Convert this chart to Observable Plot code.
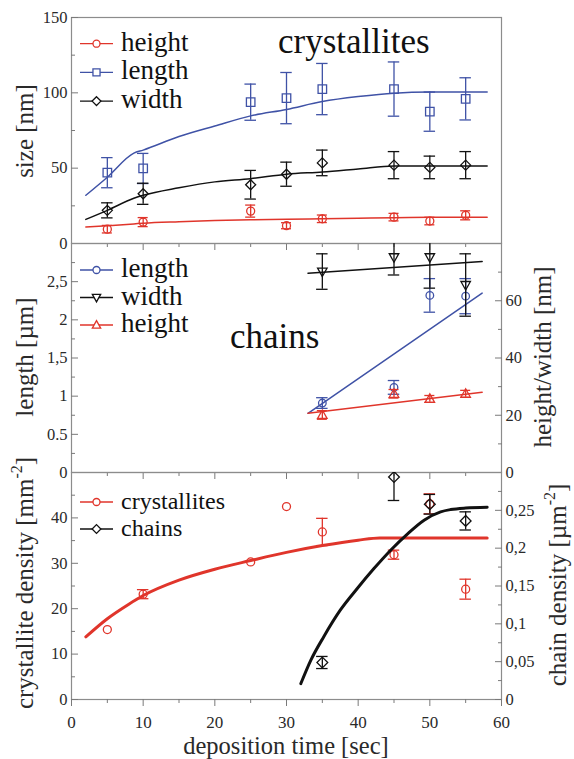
<!DOCTYPE html>
<html><head><meta charset="utf-8">
<script src="https://cdn.jsdelivr.net/npm/d3@7"></script>
<script src="https://cdn.jsdelivr.net/npm/@observablehq/plot@0.6"></script>
<style>
body{margin:0;background:#fff}
#chart{position:relative;width:574px;height:759px;background:#fff;font-family:"Liberation Serif","DejaVu Serif","Times New Roman",serif}
</style></head><body><div id="chart"></div>
<script>
// ---------- DATA ----------
// top panel: crystallite size [nm]
const crystTime = [5, 10, 25, 30, 35, 45, 50, 55];
const crystHeight = [9.5, 14.2, 21.5, 11.8, 16.4, 17.5, 14.9, 18.7];
const crystHeightErr = [2.5, 3, 4, 2, 2.5, 2.5, 2.5, 3];
const crystLength = [47, 49.8, 93.8, 96.5, 102.5, 102.5, 87.5, 96];
const crystLengthErr = [10, 10, 12, 17, 17, 18, 13, 14];
const crystWidth = [22, 33, 39, 46, 53.5, 52, 50.5, 52];
const crystWidthErr = [5, 7, 9.5, 8, 8.5, 9, 7.5, 9];
const sizeFitTime = [2, 5, 8.7, 10, 15, 20, 25, 30, 35, 40, 45, 50, 55, 58];
const lengthFit = [32, 44, 60, 62, 71, 78, 84.7, 89, 94.2, 97.5, 99.8, 100.5, 100.5, 100.5];
const widthFit = [16, 22, 30, 32, 37, 40.9, 43, 46, 47.5, 49.5, 51.5, 51.5, 51.5, 51.5];
const heightFit = [10.9, 11.8, 13, 13.5, 14.5, 15.2, 15.8, 16.1, 16.4, 16.8, 17.1, 17.4, 17.5, 17.5];

// middle panel: chains
const chainTime = [35, 45, 50, 55];
const chainLength = [0.91, 1.115, 2.32, 2.31];        // µm (left axis)
const chainLengthErr = [0.07, 0.09, 0.22, 0.23];
const chainWidth = [70.2, 75.2, 75.2, 65.5];          // nm (right axis)
const chainWidthErr = [6.2, 6.2, 10.8, 10.9];
const chainHeight = [20.1, 27.5, 25.7, 27.5];         // nm (right axis)
const chainHeightErr = [1.5, 1.5, 1.2, 1.2];
const chainFitTime = [33, 57.3];
const chainLengthFit = [0.776, 2.35];
const chainWidthFit = [69.6, 73.7];
const chainHeightFit = [20.7, 28];

// bottom panel: densities
const densTime = [5, 10, 25, 30, 35, 45, 50, 55];
const crystDensity = [15.4, 23.2, 30.3, 42.5, 36.9, 31.9, 43.1, 24.3];
const crystDensityErr = [0, 1, 0, 0, 3, 1, 2.2, 2.2];
const chainDensTime = [35, 45, 50, 55];
const chainDensity = [0.0489, 0.294, 0.258, 0.236];
const chainDensityErr = [0.008, 0.031, 0.013, 0.012];
const crystDensFitTime = [2, 5, 8, 10, 15, 20, 25, 30, 35, 40, 43, 50, 58];
const crystDensFit = [13.8, 17.8, 21, 22.9, 26.3, 28.7, 30.6, 32.4, 33.9, 35.1, 35.6, 35.6, 35.6];
const chainDensFitTime = [32, 33.4, 35.2, 37.5, 39.9, 42.2, 44.5, 46.9, 49.2, 51.5, 52.9, 55, 58];
const chainDensFit = [0.021, 0.052, 0.083, 0.118, 0.147, 0.173, 0.197, 0.219, 0.237, 0.248, 0.251, 0.253, 0.254];

// ticks
const xMajor = [0, 10, 20, 30, 40, 50, 60];
const xMinor = [5, 15, 25, 35, 45, 55];
const sizeTicks = [0, 50, 100, 150], sizeMinor = [25, 75, 125];
const lenTicks = [0, 0.5, 1, 1.5, 2, 2.5], lenTickLabels = ["0", "0.5", "1", "1,5", "2", "2,5"];
const lenMinor = [0.25, 0.75, 1.25, 1.75, 2.25, 2.75];
const hwTicks = [0, 20, 40, 60], hwMinor = [10, 30, 50, 70];
const densTicks = [0, 10, 20, 30, 40], densMinor = [5, 15, 25, 35, 45];
const cdTicks = [0, 0.05, 0.1, 0.15, 0.2, 0.25], cdTickLabels = ["0", "0,05", "0,1", "0,15", "0,2", "0,25"];
const cdMinor = [0.025, 0.075, 0.125, 0.175, 0.225, 0.275];

// ---------- STYLE ----------
const red = "#e0352b", blue = "#3f52a6", black = "#111111";
const tickGray = "#7a7a7a", frameGray = "#8c8c8c", txt = "#2a2a2a";
const W = 574, H = 759, ML = 71, MR = 73;
const font = "'Liberation Serif','DejaVu Serif','Times New Roman',serif";
const svgStyle = `position:absolute;left:0;top:0;background:transparent;overflow:visible;font-family:${font};font-size:16px;color:${txt}`;

const circleSym = d3.symbolCircle;
const squareSym = d3.symbolSquare;
const diamondSym = {draw(c, size) { const r = Math.sqrt(size / 2); c.moveTo(0, -r); c.lineTo(r, 0); c.lineTo(0, r); c.lineTo(-r, 0); c.closePath(); }};
const triUp = {draw(c, size) { const s = Math.sqrt(size / Math.PI) * 1.25; c.moveTo(0, -s); c.lineTo(s * 0.95, s * 0.7); c.lineTo(-s * 0.95, s * 0.7); c.closePath(); }};
const triDown = {draw(c, size) { const s = Math.sqrt(size / Math.PI) * 1.25; c.moveTo(0, s); c.lineTo(s * 0.95, -s * 0.7); c.lineTo(-s * 0.95, -s * 0.7); c.closePath(); }};

const rows = (t, v, e) => t.map((x, i) => ({x, v: v[i], e: e ? e[i] : 0}));

function series(t, v, e, color, sym, r, cap) {
  const d = rows(t, v, e);
  const de = d.filter(p => p.e > 0);
  const o = {stroke: color, strokeWidth: 1.3, clip: true};
  return [
    Plot.ruleX(de, {x: "x", y1: p => p.v - p.e, y2: p => p.v + p.e, ...o}),
    Plot.ruleY(de, {y: p => p.v + p.e, x1: p => p.x - cap, x2: p => p.x + cap, ...o}),
    Plot.ruleY(de, {y: p => p.v - p.e, x1: p => p.x - cap, x2: p => p.x + cap, ...o}),
    Plot.dot(d, {x: "x", y: "v", symbol: sym, r, fill: "none", ...o})
  ];
}
function fit(t, v, color, w) {
  return Plot.line(rows(t, v), {x: "x", y: "v", stroke: color, strokeWidth: w, curve: "monotone-x", clip: true});
}
function xAxes(labels) {
  const m = [
    Plot.axisX({ticks: xMajor, tickSize: 7, fill: "none", stroke: tickGray, label: null}),
    Plot.axisX({ticks: xMinor, tickSize: 4, fill: "none", stroke: tickGray, label: null})
  ];
  if (labels) m.push(Plot.axisX({ticks: xMajor, tickSize: 0, tickPadding: 16, fontSize: 17, fill: txt, label: null, tickFormat: d => String(d)}));
  return m;
}
function yAxes(anchor, major, minor, fmt) {
  return [
    Plot.axisY({anchor, ticks: major, tickSize: -7, fill: "none", stroke: tickGray, label: null}),
    Plot.axisY({anchor, ticks: minor, tickSize: -4, fill: "none", stroke: tickGray, label: null}),
    Plot.axisY({anchor, ticks: major, tickSize: 0, tickPadding: 4, fontSize: 16.5, fill: txt, label: null, tickFormat: fmt})
  ];
}
const base = (top, bottom, yDomain, xAxis) => ({
  width: W, height: H, marginLeft: ML, marginRight: MR, marginTop: top, marginBottom: H - bottom,
  x: xAxis ? {domain: [0, 60]} : {domain: [0, 60], axis: null},
  y: {domain: yDomain}, style: svgStyle
});

const chart = document.getElementById("chart");

// ---------- TOP PANEL ----------
chart.append(Plot.plot({
  ...base(17, 243, [0, 150], true),
  marks: [
    Plot.frame({stroke: frameGray, strokeWidth: 1.2}),
    fit(sizeFitTime, heightFit, red, 1.5),
    fit(sizeFitTime, lengthFit, blue, 1.5),
    fit(sizeFitTime, widthFit, black, 1.5),
    ...series(crystTime, crystHeight, crystHeightErr, red, circleSym, 4, 0.7),
    ...series(crystTime, crystLength, crystLengthErr, blue, squareSym, 4.8, 0.8),
    ...series(crystTime, crystWidth, crystWidthErr, black, diamondSym, 4, 0.8),
    ...xAxes(false),
    ...yAxes("left", sizeTicks, sizeMinor, d => String(d))
  ]
}));

// ---------- MIDDLE PANEL ----------
chart.append(Plot.plot({
  ...base(243, 472, [0, 3], true),
  marks: [
    Plot.frame({stroke: frameGray, strokeWidth: 1.2}),
    fit(chainFitTime, chainLengthFit, blue, 1.5),
    ...series(chainTime, chainLength, chainLengthErr, blue, circleSym, 3.8, 0.8),
    ...xAxes(false),
    ...yAxes("left", lenTicks, lenMinor, d => lenTickLabels[lenTicks.indexOf(d)])
  ]
}));
chart.append(Plot.plot({
  ...base(243, 472, [0, 80], false),
  marks: [
    fit(chainFitTime, chainWidthFit, black, 1.5),
    fit(chainFitTime, chainHeightFit, red, 1.5),
    ...series(chainTime, chainWidth, chainWidthErr, black, triDown, 4, 0.8),
    ...series(chainTime, chainHeight, chainHeightErr, red, triUp, 4, 0.7),
    ...yAxes("right", hwTicks, hwMinor, d => String(d))
  ]
}));

// ---------- BOTTOM PANEL ----------
chart.append(Plot.plot({
  ...base(472, 699, [0, 50], true),
  marks: [
    Plot.frame({stroke: frameGray, strokeWidth: 1.2}),
    fit(crystDensFitTime, crystDensFit, red, 3),
    ...series(densTime, crystDensity, crystDensityErr, red, circleSym, 4, 0.8),
    ...xAxes(true),
    ...yAxes("left", densTicks, densMinor, d => String(d))
  ]
}));
chart.append(Plot.plot({
  ...base(472, 699, [0, 0.3], false),
  marks: [
    fit(chainDensFitTime, chainDensFit, black, 3),
    ...series(chainDensTime, chainDensity, chainDensityErr, black, diamondSym, 4.3, 0.8),
    ...yAxes("right", cdTicks, cdMinor, d => cdTickLabels[cdTicks.indexOf(d)])
  ]
}));

// ---------- TEXT: labels, titles, legends ----------
const ann = d3.create("svg").attr("width", W).attr("height", H)
  .attr("style", "position:absolute;left:0;top:0;overflow:visible")
  .attr("font-family", "Liberation Serif").attr("fill", txt);

function vlabel(x, y, parts) {
  const t = ann.append("text").attr("transform", `translate(${x},${y}) rotate(-90)`)
    .attr("text-anchor", "middle").attr("font-size", 25);
  parts.forEach(p => {
    const s = t.append("tspan").text(p.t);
    if (p.sup) s.attr("dy", -11).attr("font-size", 16);
    if (p.down) s.attr("dy", 11);
  });
}
vlabel(33, 131, [{t: "size [nm]"}]);
vlabel(33, 357, [{t: "length [µm]"}]);
vlabel(33, 583, [{t: "crystallite density [mm"}, {t: "-2", sup: true}, {t: "]", down: true}]);
vlabel(551, 357, [{t: "height/width [nm]"}]);
vlabel(566, 585, [{t: "chain density [µm"}, {t: "-2", sup: true}, {t: "]", down: true}]);
ann.append("text").attr("x", 286).attr("y", 754).attr("text-anchor", "middle").attr("font-size", 24.5).text("deposition time [sec]");
ann.append("text").attr("x", 278).attr("y", 53).attr("font-size", 35).attr("fill", "#111").text("crystallites");
ann.append("text").attr("x", 230).attr("y", 348).attr("font-size", 35).attr("fill", "#111").text("chains");

function legend(items, y0, step, fs) {
  items.forEach((it, i) => {
    const y = y0 + i * step;
    ann.append("line").attr("x1", 80).attr("x2", 113).attr("y1", y).attr("y2", y)
      .attr("stroke", it.color).attr("stroke-width", 1.3);
    ann.append("path").attr("d", d3.symbol(it.sym, Math.PI * it.r * it.r)())
      .attr("transform", `translate(96.5,${y})`).attr("fill", "#fff")
      .attr("stroke", it.color).attr("stroke-width", 1.3);
    ann.append("text").attr("x", 121).attr("y", y + 7).attr("font-size", fs).attr("fill", "#111").text(it.label);
  });
}
legend([
  {label: "height", color: red, sym: circleSym, r: 3.5},
  {label: "length", color: blue, sym: squareSym, r: 4},
  {label: "width", color: black, sym: diamondSym, r: 3.5}
], 43.7, 28.7, 27);
legend([
  {label: "length", color: blue, sym: circleSym, r: 3.5},
  {label: "width", color: black, sym: triDown, r: 3.5},
  {label: "height", color: red, sym: triUp, r: 3.5}
], 270, 27.5, 27);
legend([
  {label: "crystallites", color: red, sym: circleSym, r: 3.5},
  {label: "chains", color: black, sym: diamondSym, r: 3.5}
], 502, 27, 24);

chart.append(ann.node());
</script></body></html>
